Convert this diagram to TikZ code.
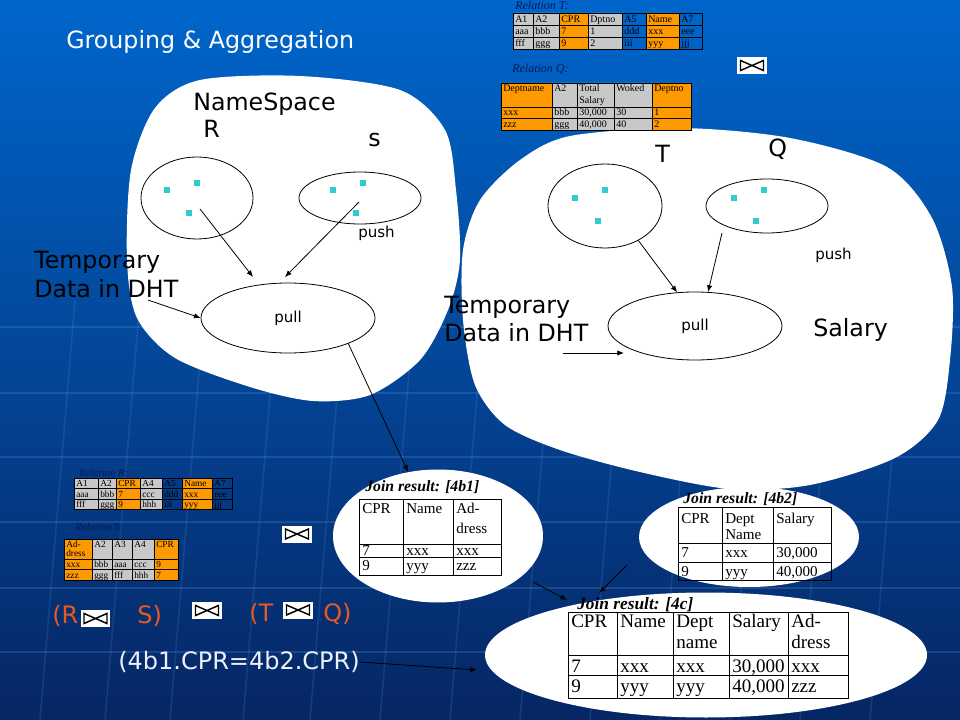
\documentclass[tikz,border=0pt]{standalone}
\usepackage{fontspec}
\setmainfont{DejaVu Sans}
\newfontfamily\tabfont{Liberation Serif}
\usetikzlibrary{shapes.geometric,arrows.meta,calc}

\definecolor{bgtop}{RGB}{0,102,204}
\definecolor{bgmid}{RGB}{12,72,165}
\definecolor{bgbot}{RGB}{6,38,100}
\definecolor{gridblue}{RGB}{110,170,240}
\definecolor{cellgray}{RGB}{200,200,200}
\definecolor{cellorange}{RGB}{255,153,0}
\definecolor{dotcyan}{RGB}{51,204,204}
\definecolor{exprred}{RGB}{232,88,32}
\definecolor{labelnavy}{RGB}{5,25,85}
\definecolor{condwhite}{RGB}{235,240,250}

\newcommand\stackcell[1]{\begin{tabular}[t]{@{}l@{}}#1\end{tabular}}

\tikzset{
  biglabel/.style={font=\fontsize{17.8}{21}\selectfont, anchor=base west, inner sep=0pt},
  smalllabel/.style={font=\fontsize{11.3}{13}\selectfont},
  nsset/.style={ellipse, draw, line width=0.6pt, inner sep=0pt},
  datadot/.style={fill=dotcyan, minimum size=4.5pt, inner sep=0pt},
  arr/.style={-{Latex[length=5pt,width=4pt]}, line width=0.6pt},
  reltitle/.style={font=\tabfont\itshape\fontsize{9}{10}\selectfont, text=labelnavy, anchor=base west, inner sep=0pt},
  relcell/.style={font=\tabfont\fontsize{7.5}{9}\selectfont, anchor=base west, inner sep=0pt},
  relcellsm/.style={relcell, font=\tabfont\fontsize{7}{7.2}\selectfont},
  jointitle/.style={font=\tabfont\bfseries\itshape\fontsize{11.8}{12}\selectfont, anchor=base west, inner sep=0pt},
  joincell/.style={font=\tabfont\fontsize{11.3}{15}\selectfont, anchor=base west, inner sep=0pt},
  joinpool/.style={ellipse, fill=white, inner sep=0pt},
  bowtie/.style={fill=white, minimum width=22pt, minimum height=12.75pt, inner sep=0pt,
    path picture={\draw[line width=1.1pt]
      ($(path picture bounding box.center)+(-11.5,-5)$) -- ++(0,10) -- ++(23,-10) -- ++(0,10) -- cycle;}},
  exprtext/.style={font=\fontsize{18}{21}\selectfont, text=exprred, anchor=west, inner sep=0pt},
}

\begin{document}
\begin{tikzpicture}[x=0.75pt,y=-0.75pt]
\useasboundingbox (0,0) rectangle (960,720);
\shade[top color=bgtop, middle color=bgmid, bottom color=bgbot] (0,0) rectangle (960,720);
\foreach \y in {327,393,457,522,588,652}
  \draw[gridblue, opacity=0.2, line width=1.2pt] (0,\y) -- (960,\y);
\foreach \x in {60,125,190,263,330,400,470,540,610,680,750,820,890}
  \draw[gridblue, opacity=0.15, line width=1.2pt] (\x+15,300) -- (\x-20,720);

% name spaces
\fill[white] plot[smooth cycle] coordinates {(200,80) (300,76) (400,90) (445,130) (456,190) (460,260) (448,310) (420,360) (370,395) (313,401) (250,387) (175,358) (137,318) (127,260) (131,170) (155,108)};
\fill[white] plot[smooth cycle] coordinates {(463,250) (480,200) (520,160) (570,136) (680,128) (790,138) (887,167) (932,218) (952,287) (950,360) (938,420) (895,458) (810,485) (730,489) (640,472) (560,450) (505,425) (475,385) (463,320)};

\node[biglabel, text=white] (title) at (66,49) {Grouping \& Aggregation};

% relation T and Q
\node[reltitle] (relT) at (515,10) {Relation T:};
\foreach \x/\w/\c/\h/\p/\q [count=\i] in {513/20/cellgray/A1/aaa/fff, 533/26/cellgray/A2/bbb/ggg, 559/29/cellorange/CPR/7/9, 588/34/cellgray/Dptno/1/2, 622/24/none/A5/ddd/iii, 646/33/cellorange/Name/xxx/yyy, 679/23/none/A7/eee/jjj}{
  \draw[fill=\c, line width=0.6pt] (\x,13) rectangle ++(\w,36) (\x,25) -- ++(\w,0) (\x,37) -- ++(\w,0);
  \node[relcell] (relT-h\i) at (\x+2,22.5) {\h};
  \node[relcell] (relT-a\i) at (\x+2,34.5) {\p};
  \node[relcell] (relT-b\i) at (\x+2,46.5) {\q};
}
\node[reltitle] (relQ) at (512,73) {Relation Q:};
\foreach \x/\w/\c/\h/\p/\q [count=\i] in {501/51/cellorange/Deptname/xxx/zzz, 552/25/cellgray/A2/bbb/ggg, 577/37/cellgray/\stackcell{Total\\Salary}/{30,000}/{40,000}, 614/38/cellgray/Woked/30/40, 652/39/cellorange/Deptno/1/2}{
  \draw[fill=\c, line width=0.6pt] (\x,83) rectangle ++(\w,47) (\x,107) -- ++(\w,0) (\x,118) -- ++(\w,0);
  \node[relcell] (relQ-h\i) at (\x+2,92) {\h};
  \node[relcell] (relQ-a\i) at (\x+2,116) {\p};
  \node[relcell] (relQ-b\i) at (\x+2,127.5) {\q};
}
\node[bowtie] (bwTQ) at (752,65.5) {};

% left name space
\node[biglabel] (ns) at (193,111) {NameSpace};
\node[biglabel] (Rlbl) at (203,138) {R};
\node[biglabel] (slbl) at (368,147) {s};
\node[nsset, minimum width=84pt, minimum height=61.5pt] (R) at (197,198) {};
\node[nsset, minimum width=91.5pt, minimum height=39pt] (S) at (360,198) {};
\node[nsset, smalllabel, minimum width=130.5pt, minimum height=52.5pt] (pullL) at (288,318) {pull};
\node[datadot] (r1) at (167,190) {};
\node[datadot] (r2) at (197,183) {};
\node[datadot] (r3) at (189,213) {};
\node[datadot] (s1) at (333,190) {};
\node[datadot] (s2) at (363,183) {};
\node[datadot] (s3) at (356,213) {};
\node[smalllabel, anchor=base west, inner sep=0pt] (pushL) at (358,238) {push};
\node[biglabel] (tmpL) at (34,269) {\stackcell{Temporary\\Data in DHT}};
\coordinate (tmpLend) at (148,300);
\draw[arr] (tmpLend) -- (pullL.west);
\draw[arr] ($(R)+(3,11)$) -- ($(pullL)+(-35,-41)$);
\draw[arr] ($(S)+(-1,4)$) -- ($(pullL)+(-3,-41)$);

% right name space
\node[biglabel] (Tlbl) at (655,163) {T};
\node[biglabel] (Qlbl) at (768,157) {Q};
\node[nsset, minimum width=85.5pt, minimum height=63pt] (T) at (605,206) {};
\node[nsset, minimum width=91.5pt, minimum height=40.5pt] (Q) at (767,206) {};
\node[nsset, smalllabel, minimum width=130.5pt, minimum height=51pt] (pullR) at (695,326) {pull};
\node[datadot] (t1) at (575,198) {};
\node[datadot] (t2) at (605,190) {};
\node[datadot] (t3) at (598,221) {};
\node[datadot] (q1) at (734,198) {};
\node[datadot] (q2) at (764,190) {};
\node[datadot] (q3) at (756,221) {};
\node[smalllabel, anchor=base west, inner sep=0pt] (pushR) at (815,260) {push};
\node[biglabel] (salary) at (813,336) {Salary};
\node[biglabel] (tmpR) at (444,313) {\stackcell{Temporary\\Data in DHT}};
\coordinate (tmpRend) at (563,353);
\draw[arr] (tmpRend) -- ($(pullR)+(-71,27)$);
\draw[arr] (T.-46) -- (pullR.118);
\draw[arr] ($(Q)+(-45,27)$) -- (pullR.69);

% relation R and S
\node[reltitle, font=\tabfont\itshape\fontsize{8}{9}\selectfont] (relR) at (79,476) {Relation R:};
\foreach \x/\w/\c/\h/\p/\q [count=\i] in {74/24/cellgray/A1/aaa/fff, 98/18/cellgray/A2/bbb/ggg, 116/24/cellorange/CPR/7/9, 140/22/cellgray/A4/ccc/hhh, 162/20/none/A5/ddd/iii, 182/30/cellorange/Name/xxx/yyy, 212/20/none/A7/eee/jjj}{
  \draw[fill=\c, line width=0.6pt] (\x,478) rectangle ++(\w,31.5) (\x,488.5) -- ++(\w,0) (\x,499) -- ++(\w,0);
  \node[relcellsm] (relR-h\i) at (\x+2,486.5) {\h};
  \node[relcellsm] (relR-a\i) at (\x+2,497) {\p};
  \node[relcellsm] (relR-b\i) at (\x+2,507.5) {\q};
}
\node[reltitle, font=\tabfont\itshape\fontsize{8}{9}\selectfont] (relS) at (75,530) {Relation S:};
\foreach \x/\w/\c/\h/\p/\q [count=\i] in {64/28/cellorange/\stackcell{Ad-\\dress}/xxx/zzz, 92/20/cellgray/A2/bbb/ggg, 112/20/cellgray/A3/aaa/fff, 132/22/cellgray/A4/ccc/hhh, 154/24/cellorange/CPR/9/7}{
  \draw[fill=\c, line width=0.6pt] (\x,539) rectangle ++(\w,41) (\x,559) -- ++(\w,0) (\x,569.5) -- ++(\w,0);
  \node[relcellsm] (relS-h\i) at (\x+2,547) {\h};
  \node[relcellsm] (relS-a\i) at (\x+2,567.5) {\p};
  \node[relcellsm] (relS-b\i) at (\x+2,578) {\q};
}
\node[bowtie] (bwRS) at (297,534) {};

% join results
\node[joinpool, minimum width=157.5pt, minimum height=99.75pt] (jA) at (438,536) {};
\node[joinpool, minimum width=165pt, minimum height=75pt] (jB) at (749,537) {};
\node[joinpool, minimum width=331.5pt, minimum height=93.75pt] (jC) at (706,655) {};
\draw[arr] (pullL.-23) -- (jA.115);

\node[jointitle] (jA-t) at (365,491) {Join result: [4b1]};
\foreach \x/\w/\h/\p/\q [count=\i] in {359/44/CPR/7/9, 403/50/Name/xxx/yyy, 453/48/\stackcell{Ad-\\dress}/xxx/zzz}{
  \draw[line width=0.6pt] (\x,499) rectangle ++(\w,76) (\x,544) -- ++(\w,0) (\x,557) -- ++(\w,0);
  \node[joincell] (jA-h\i) at (\x+3,513) {\h};
  \node[joincell] (jA-a\i) at (\x+3,555.5) {\p};
  \node[joincell] (jA-b\i) at (\x+3,570) {\q};
}
\node[jointitle] (jB-t) at (683,503) {Join result: [4b2]};
\foreach \x/\w/\h/\p/\q [count=\i] in {678/44/CPR/7/9, 722/51/\stackcell{Dept\\Name}/xxx/yyy, 773/58/Salary/{30,000}/{40,000}}{
  \draw[line width=0.6pt] (\x,507) rectangle ++(\w,73) (\x,543) -- ++(\w,0) (\x,562) -- ++(\w,0);
  \node[joincell, font=\tabfont\fontsize{11.3}{12}\selectfont] (jB-h\i) at (\x+3,523) {\h};
  \node[joincell] (jB-a\i) at (\x+3,557) {\p};
  \node[joincell] (jB-b\i) at (\x+3,576) {\q};
}
\node[jointitle, font=\tabfont\bfseries\itshape\fontsize{13}{14}\selectfont] (jC-t) at (577,609) {Join result: [4c]};
\foreach \x/\w/\h/\p/\q [count=\i] in {568/49/CPR/7/9, 617/56/Name/xxx/yyy, 673/56/\stackcell{Dept\\name}/xxx/yyy, 729/59/Salary/{30,000}/{40,000}, 788/60/\stackcell{Ad-\\dress}/xxx/zzz}{
  \draw[line width=0.6pt] (\x,612) rectangle ++(\w,86) (\x,655) -- ++(\w,0) (\x,675) -- ++(\w,0);
  \node[joincell, font=\tabfont\fontsize{14.3}{15.75}\selectfont] (jC-h\i) at (\x+3,627) {\h};
  \node[joincell, font=\tabfont\fontsize{14.3}{15.75}\selectfont] (jC-a\i) at (\x+3,672) {\p};
  \node[joincell, font=\tabfont\fontsize{14.3}{15.75}\selectfont] (jC-b\i) at (\x+3,692) {\q};
}
\draw[arr] ($(jA)+(95,46)$) -- ($(jC)+(-139,-55)$);
\draw[arr] ($(jB)+(-122,28)$) -- ($(jC)+(-107,-62)$);

% join expression
\node[exprtext] (fR) at (52,616) {(R};
\node[bowtie] (bw1) at (95.5,618.5) {};
\node[exprtext] (fS) at (137,616) {S)};
\node[bowtie] (bw2) at (207,610.5) {};
\node[exprtext] (fT) at (249,614) {(T};
\node[bowtie] (bw3) at (298,610) {};
\node[exprtext] (fQ) at (323,614) {Q)};
\node[exprtext, text=condwhite] (cond) at (118,662) {(4b1.CPR=4b2.CPR)};
\draw[arr] (cond.east) -- ($(jC)+(-229,15)$);
\end{tikzpicture}
\end{document}
